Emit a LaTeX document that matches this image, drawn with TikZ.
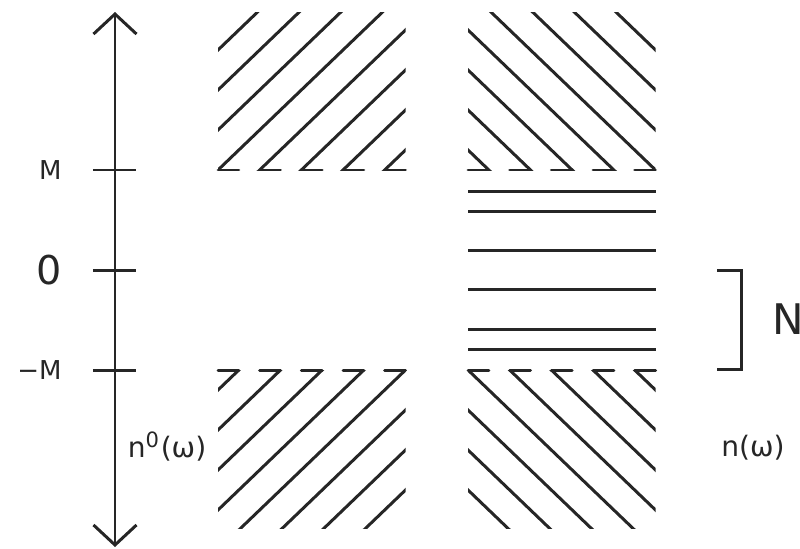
\documentclass[tikz,border=0pt]{standalone}
\usepackage{fontspec}
\setmainfont{DejaVu Sans}
\usepackage{tikz}
\usetikzlibrary{arrows.meta,positioning}

\newcommand{\hs}{0.41667} % hatch spacing
\newcommand{\hh}{0.20833} % half of it

\begin{document}
\begin{tikzpicture}[
        node distance=0.52cm,
        line width=0.85pt,
        axisline/.style={{Straight Barb[length=2mm,width=4.3mm]}-{Straight Barb[length=2mm,width=4.3mm]}, draw=black!85},
        hatch/.style={draw=black!85},
        foot/.style={draw=black!85, line cap=round},
        lbl/.style={inner sep=0pt, text=black!85, font=\fontsize{7.4}{8}\selectfont},
        biglbl/.style={inner sep=0pt, text=black!85, font=\fontsize{11.3}{12}\selectfont},
        fnlbl/.style={inner sep=0pt, anchor=base, text=black!85, font=\fontsize{8}{9}\selectfont}
    ]
        \useasboundingbox (-1.15,-2.78) rectangle (6.85,2.70);

        % Axis
        \coordinate (top) at (0,2.58);
        \coordinate (bot) at (0,-2.77);
        \draw[axisline] (bot) -- (top);
        \foreach \y/\n in {1/tp, 0/tz, -1/tm} {
            \coordinate (\n) at (0,\y);
            \draw[hatch] (\n) ++(-0.22,0) -- ++(0.43,0);
        }
        \node[lbl, left=of tp] (lm) {M};
        \node[biglbl, left=of tz] (lz) {0};
        \node[lbl, left=of tm] (lmm) {−M};

        % Hatched regions
        \begin{scope}
            \clip (1.03,1) rectangle (2.905,2.58);
            \foreach \k in {-3,...,4}
                \draw[hatch] ({1.03+\hs*(\k)-2},{1-1.92}) -- ++(4,3.84);
        \end{scope}
        \begin{scope}
            \clip (3.53,1) rectangle (5.405,2.58);
            \foreach \k in {-3,...,4}
                \draw[hatch] ({5.405-\hs*(\k)-2},{1+1.92}) -- ++(4,-3.84);
        \end{scope}
        \begin{scope}
            \clip (1.03,-2.58) rectangle (2.905,-1);
            \foreach \k in {-3,...,4}
                \draw[hatch] ({2.905-\hs*(\k)-2},{-1-1.92}) -- ++(4,3.84);
        \end{scope}
        \begin{scope}
            \clip (3.53,-2.58) rectangle (5.405,-1);
            \foreach \k in {-3,...,4}
                \draw[hatch] ({3.53+\hs*(\k)-2},{-1+1.92}) -- ++(4,-3.84);
        \end{scope}
        \foreach \k in {0,...,4} {
            \draw[foot] ({1.03+\hs*\k},1) -- ++(\hh,0);
            \draw[foot] ({5.405-\hs*\k},1) -- ++(-\hh,0);
            \draw[foot] ({2.905-\hs*\k},-1) -- ++(-\hh,0);
            \draw[foot] ({3.53+\hs*\k},-1) -- ++(\hh,0);
        }

        % Levels between -M and M
        \foreach \y in {0.785,0.59,0.195,-0.19,-0.59,-0.79}
            \draw[hatch] (3.53,\y) -- (5.405,\y);

        % Bracket N
        \coordinate (ntop) at (6.26,0);
        \coordinate (nbot) at (6.26,-0.99);
        \coordinate (nmid) at (6.26,-0.495);
        \draw[hatch] ([xshift=-2.4mm]ntop) -- (ntop) -- (nbot) -- ([xshift=-2.4mm]nbot);
        \node[inner sep=0pt, text=black!85, font=\fontsize{12}{14}\selectfont, right=0.3cm of nmid] (lN) {N};

        % Labels
        \node[fnlbl] (ln0) at (0.52,-1.87) {n\textsuperscript{0}(ω)};
        \node[fnlbl] (ln) at (6.38,-1.86) {n(ω)};
    \end{tikzpicture}
\end{document}
